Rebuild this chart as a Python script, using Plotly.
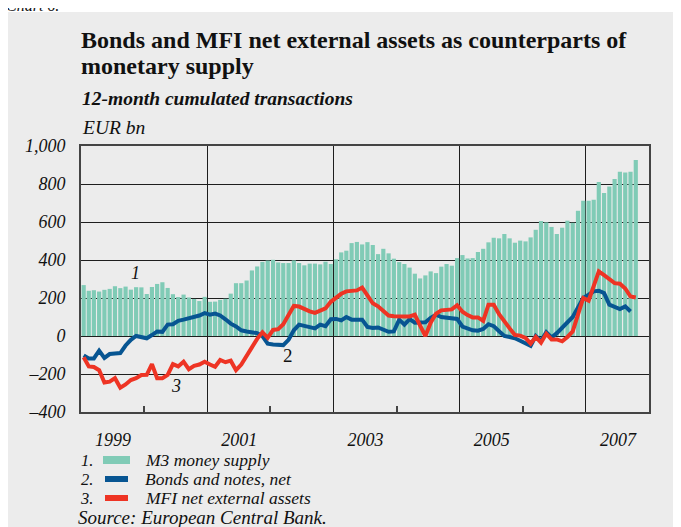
import pandas as pd
import plotly.graph_objects as go

# ---------------------------------------------------------------------------
# Data (EUR bn, 12-month cumulated transactions), monthly from Jan 1999
# ---------------------------------------------------------------------------
START_MONTH = "1999-01-01"

m3_supply = [
    268, 238, 241, 234, 243, 248, 262, 252, 260, 244, 257, 256,
    221, 258, 274, 283, 253, 220, 205, 218, 203, 195, 184, 206,
    180, 181, 190, 196, 223, 278, 278, 292, 345, 366, 390, 397,
    401, 387, 384, 384, 398, 384, 372, 381, 381, 377, 391, 379,
    404, 440, 449, 489, 495, 482, 494, 479, 431, 459, 435, 407,
    389, 379, 360, 328, 303, 319, 340, 331, 365, 379, 370, 410,
    426, 408, 410, 442, 459, 493, 517, 514, 537, 514, 491, 502,
    498, 519, 559, 605, 598, 574, 537, 570, 607, 596, 659, 712,
    712, 717, 810, 752, 787, 826, 865, 861, 865, 926,
]

bonds_notes = [
    -102, -118, -118, -77, -115, -95, -92, -90, -50, -20, 0, -5,
    -12, 5, 24, 22, 60, 62, 80, 86, 92, 100, 108, 120,
    112, 118, 108, 88, 65, 50, 30, 24, 20, 15, 0, -40,
    -45, -48, -48, -20, 30, 60, 55, 45, 40, 60, 52, 88,
    90, 82, 100, 86, 86, 86, 48, 42, 45, 36, 22, 24,
    86, 60, 89, 70, 70, 72, 95, 112, 100, 95, 92, 90,
    50, 40, 30, 28, 37, 62, 52, 25, 0, -5, -12, -25,
    -40, -52, 0, -25, 20, -8, 15, 45, 70, 100, 150, 200,
    217, 235, 238, 226, 165, 153, 142, 156, 129,
]

mfi_external = [
    -112, -160, -163, -180, -245, -240, -222, -272, -255, -232, -222, -205,
    -204, -148, -222, -222, -205, -148, -160, -135, -175, -157, -150, -135,
    -150, -162, -126, -138, -130, -180, -150, -108, -60, -15, 20, -10,
    32, 36, 62, 110, 158, 155, 140, 130, 122, 132, 145, 180,
    205, 222, 235, 235, 240, 255, 210, 172, 156, 135, 108, 104,
    106, 103, 103, 112, 55, 0, 70, 117, 135, 137, 140, 162,
    128, 110, 98, 98, 80, 165, 165, 115, 75, 40, 5, 2,
    -10, -40, -5, -35, 12, -18, -18, -28, -5, 24, 112, 200,
    186, 261, 340, 320, 300, 278, 275, 250, 208, 203,
]

y_tick_values = [-400, -200, 0, 200, 400, 600, 800, 1000]
y_tick_labels = ["\u2013400", "\u2013200", "0", "200", "400", "600", "800", "1,000"]
year_ticks = ["1999-01-01", "2001-01-01", "2003-01-01", "2005-01-01", "2007-01-01"]
year_labels = ["1999", "2001", "2003", "2005", "2007"]
minor_year_ticks = ["2000-01-01", "2002-01-01", "2004-01-01", "2006-01-01"]

series_names = ["M3 money supply", "Bonds and notes, net", "MFI net external assets"]
title_lines = ["Bonds and MFI net external assets as counterparts of", "monetary supply"]

# ---------------------------------------------------------------------------
# Styling
# ---------------------------------------------------------------------------
COLOR_BARS = "#80cbb6"
COLOR_BONDS = "#075592"
COLOR_MFI = "#ee3424"
COLOR_PANEL = "#ececec"
COLOR_GRID = "#1e1e1e"
COLOR_FRAME = "#444444"
COLOR_TEXT = "#111111"
SERIF = "Liberation Serif"

# The page body adds an 8px margin, so the figure is 8px smaller than the window.
BODY_MARGIN = 8
FIG_W, FIG_H = 681 - BODY_MARGIN, 527 - BODY_MARGIN
# plot area in page pixels
PLOT_L, PLOT_R, PLOT_T, PLOT_B = 81, 649, 146, 412


def px_x(px):
    """Page x pixel -> paper coordinate."""
    return (px - PLOT_L) / (PLOT_R - PLOT_L)


def px_y(py):
    """Page y pixel -> paper coordinate."""
    return (PLOT_B - py) / (PLOT_B - PLOT_T)


def italic(size):
    return dict(family=SERIF, size=size, color=COLOR_TEXT, style="italic")


months = pd.date_range(START_MONTH, periods=len(m3_supply), freq="MS")

fig = go.Figure()
fig.add_trace(
    go.Bar(
        x=months,
        y=m3_supply,
        name=series_names[0],
        marker=dict(color=COLOR_BARS, line=dict(width=0)),
        xperiod="M1",
        xperiodalignment="middle",
    )
)
fig.add_trace(
    go.Scatter(
        x=months[: len(bonds_notes)],
        y=bonds_notes,
        mode="lines",
        name=series_names[1],
        line=dict(color=COLOR_BONDS, width=4),
        xperiod="M1",
        xperiodalignment="middle",
    )
)
fig.add_trace(
    go.Scatter(
        x=months[: len(mfi_external)],
        y=mfi_external,
        mode="lines",
        name=series_names[2],
        line=dict(color=COLOR_MFI, width=4),
        xperiod="M1",
        xperiodalignment="middle",
    )
)

annotations = [
    # title, subtitle and unit
    dict(text=f"<b>{title_lines[0]}</b>", x=px_x(79), y=px_y(40),
         font=dict(family=SERIF, size=24, color=COLOR_TEXT)),
    dict(text=f"<b>{title_lines[1]}</b>", x=px_x(79), y=px_y(66),
         font=dict(family=SERIF, size=24, color=COLOR_TEXT)),
    dict(text="<b>12-month cumulated transactions</b>", x=px_x(80), y=px_y(98),
         font=italic(19.5)),
    dict(text="EUR bn", x=px_x(80), y=px_y(127), font=italic(19.5)),
    # series numbers inside the plot
    dict(text="1", x="1999-11-15", y=330, xref="x", yref="y", font=italic(18),
         xanchor="center"),
    dict(text="2", x="2002-04-15", y=-100, xref="x", yref="y",
         font=dict(family=SERIF, size=19, color=COLOR_TEXT), xanchor="center"),
    dict(text="3", x="2000-07-01", y=-265, xref="x", yref="y", font=italic(18),
         xanchor="center"),
    # source and cut-off chart label
    dict(text="Source: European Central Bank.", x=px_x(76), y=px_y(517),
         font=italic(19)),
    dict(text="Chart 6.", x=px_x(4), y=px_y(5), font=italic(16)),
]

legend_rows = [460, 479, 498]
shapes = [
    # grey panel behind the whole chart
    dict(type="rect", xref="paper", yref="paper", x0=px_x(8), x1=px_x(700),
         y0=px_y(560), y1=px_y(12), fillcolor=COLOR_PANEL, line=dict(width=0),
         layer="below"),
]
for number, (row_y, name) in enumerate(zip(legend_rows, series_names), start=1):
    annotations.append(
        dict(text=f"{number}.", x=px_x(94), y=px_y(row_y), font=italic(16.5),
             xanchor="right", borderpad=0)
    )
    annotations.append(
        dict(text=name, x=px_x(144), y=px_y(row_y), font=italic(17.5), borderpad=0)
    )

shapes.append(
    dict(type="rect", xref="paper", yref="paper", x0=px_x(103), x1=px_x(130),
         y0=px_y(legend_rows[0] + 4), y1=px_y(legend_rows[0] - 4),
         fillcolor=COLOR_BARS, line=dict(width=0))
)
for row_y, color in zip(legend_rows[1:], [COLOR_BONDS, COLOR_MFI]):
    shapes.append(
        dict(type="line", xref="paper", yref="paper", x0=px_x(105), x1=px_x(128),
             y0=px_y(row_y), y1=px_y(row_y), line=dict(color=color, width=6))
    )

for ann in annotations:
    ann.setdefault("xref", "paper")
    ann.setdefault("yref", "paper")
    ann.setdefault("xanchor", "left")
    ann.setdefault("yanchor", "middle")
    ann["showarrow"] = False

fig.update_layout(
    width=FIG_W,
    height=FIG_H,
    autosize=False,
    margin=dict(
        l=PLOT_L - BODY_MARGIN,
        r=681 - PLOT_R,
        t=PLOT_T - BODY_MARGIN,
        b=527 - PLOT_B,
    ),
    paper_bgcolor="white",
    plot_bgcolor=COLOR_PANEL,
    showlegend=False,
    bargap=0.18,
    annotations=annotations,
    shapes=shapes,
)

fig.update_xaxes(
    type="date",
    range=["1999-01-01", "2008-01-01"],
    tickvals=year_ticks,
    ticktext=year_labels,
    ticks="",
    ticklabelshift=32,
    ticklabelstandoff=10,
    tickfont=italic(18),
    showgrid=True,
    gridcolor=COLOR_GRID,
    gridwidth=1,
    showline=True,
    linecolor=COLOR_FRAME,
    linewidth=2,
    mirror=True,
    zeroline=False,
    minor=dict(
        tickvals=minor_year_ticks,
        ticks="inside",
        ticklen=6,
        tickwidth=1.5,
        tickcolor=COLOR_FRAME,
        showgrid=False,
    ),
)
fig.update_yaxes(
    range=[-400, 1000],
    tickvals=y_tick_values,
    ticktext=y_tick_labels,
    ticks="",
    tickfont=italic(18),
    ticklabelstandoff=10,
    showgrid=True,
    gridcolor=COLOR_GRID,
    gridwidth=1,
    showline=True,
    linecolor=COLOR_FRAME,
    linewidth=2,
    mirror=True,
    zeroline=False,
)

fig.write_html("out.html")
